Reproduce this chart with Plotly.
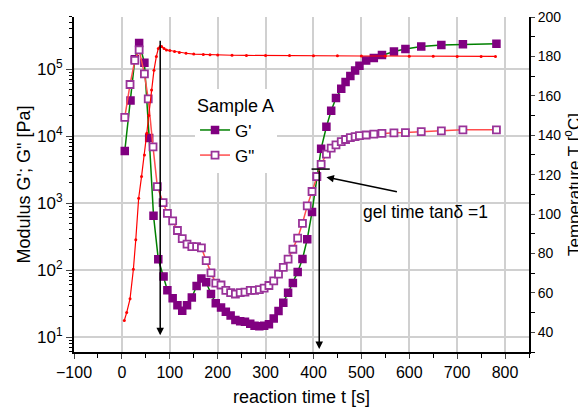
import plotly.graph_objects as go

# ---------------- data ----------------
t_gp = [6, 18, 27, 36, 47, 57, 66, 76, 87, 95, 106, 116, 126, 136, 146, 156, 166, 176,
        186, 196, 207, 217, 227, 237, 247, 257, 268, 277, 287, 297, 307, 317, 327, 337,
        347, 357, 367, 377, 387, 397, 407, 416, 427, 437, 447, 458, 467, 477, 487, 496,
        510, 526, 543, 568, 592, 625, 667, 712, 782]
g_prime = [6.0e3, 3.4e4, 1.4e5, 2.45e5, 1.25e5, 9.4e3, 650, 145, 80, 50, 38, 30, 24.7, 30,
           39, 58, 75, 66, 44, 32, 27.6, 24, 21, 18, 17.3, 17, 15.8, 14.8, 14.5, 14.8,
           15.5, 19, 24.5, 32.7, 46, 64, 94, 146, 290, 740, 2500, 6500, 1.38e4, 2.4e4,
           3.7e4, 5.1e4, 6.4e4, 7.9e4, 9.5e4, 1.12e5, 1.34e5, 1.46e5, 1.63e5, 1.83e5,
           2.0e5, 2.18e5, 2.3e5, 2.36e5, 2.4e5]

t_gpp = [6, 17, 27, 36, 47, 55, 65, 74, 86, 95, 106, 116, 126, 136, 146, 156, 166, 176,
         186, 196, 207, 217, 227, 237, 247, 257, 268, 277, 287, 297, 307, 317, 327, 337,
         347, 357, 367, 377, 387, 397, 407, 416, 427, 437, 447, 458, 467, 477, 487, 496,
         510, 526, 543, 568, 592, 625, 667, 712, 782]
g_dprime = [1.9e4, 5.9e4, 1.35e5, 1.94e5, 8.5e4, 3.6e4, 6.9e3, 1.76e3, 1.02e3, 705, 545,
            390, 296, 245, 225, 225, 215, 139, 91, 64, 60, 50, 46, 44, 46, 47, 50, 50, 51,
            54, 59, 69, 87, 110, 146, 205, 300, 500, 910, 1490, 2480, 3800, 5400, 6600,
            7400, 8300, 8900, 9500, 9800, 1.02e4, 1.04e4, 1.07e4, 1.1e4, 1.12e4, 1.13e4,
            1.17e4, 1.2e4, 1.24e4, 1.24e4]

t_temp = [5, 10, 17, 24, 29, 35, 41, 47, 52, 56, 62, 67, 72, 76, 80, 83, 88, 93, 100, 110,
          120, 134, 150, 170, 184, 200, 230, 260, 300, 350, 400, 450, 500, 550, 600, 650,
          700, 750, 780]
temp = [46, 50, 57, 72, 87, 108, 119, 130, 141, 150, 163, 173, 180, 184, 185, 185, 184,
        183.3, 183, 182.5, 182, 181.6, 181.2, 181, 180.8, 180.7, 180.6, 180.5, 180.4,
        180.4, 180.3, 180.3, 180.2, 180.2, 180.1, 180.1, 180, 180, 180]

x_ticks = [-100, 0, 100, 200, 300, 400, 500, 600, 700, 800]
y_ticks = [10, 100, 1000, 10000, 100000]
y_ticktext = ["10<sup>1</sup>", "10<sup>2</sup>", "10<sup>3</sup>", "10<sup>4</sup>", "10<sup>5</sup>"]
y_minor = [m * 10 ** e for e in range(0, 6) for m in range(2, 10)]
t_ticks = [40, 60, 80, 100, 120, 140, 160, 180, 200]

t_arrow1 = 80
t_gel = 412

FONT = "Arial, Liberation Sans, sans-serif"
PURPLE = "#800080"

fig = go.Figure()

fig.add_trace(go.Scatter(
    x=t_temp, y=temp, yaxis="y2", mode="lines+markers", showlegend=False,
    line=dict(color="#ff0000", width=1.2),
    marker=dict(color="#ff0000", size=3)))

fig.add_trace(go.Scatter(
    x=t_gp, y=g_prime, name="G'", mode="lines+markers",
    line=dict(color="#008000", width=1.5),
    marker=dict(symbol="square", size=7, color=PURPLE, line=dict(color=PURPLE, width=1.5))))

fig.add_trace(go.Scatter(
    x=t_gpp, y=g_dprime, name='G"', mode="lines+markers",
    line=dict(color="#ff4d4d", width=1.5),
    marker=dict(symbol="square", size=7, color="white", line=dict(color="#993399", width=1.8))))

grid = "#d0d0d0"
# the page body has an 8px margin, so the figure is 8px smaller on each axis
fig.update_layout(
    width=578, height=404,
    margin=dict(l=66, r=57, t=9, b=60),
    paper_bgcolor="white", plot_bgcolor="white",
    font=dict(family=FONT, size=16, color="black"),
    xaxis=dict(
        range=[-100, 850], tickvals=x_ticks, ticks="outside", ticklen=5, tickwidth=1.2,
        showline=True, linecolor="black", linewidth=2, showgrid=True, gridcolor=grid, gridwidth=1.5,
        zeroline=False, tickfont=dict(size=16), automargin=False,
        minor=dict(dtick=50, ticks="outside", ticklen=4, tickcolor="black", showgrid=False),
        title=dict(text="reaction time t [s]", font=dict(size=18), standoff=10)),
    yaxis=dict(
        type="log", range=[0.778, 5.778], tickvals=y_ticks, ticktext=y_ticktext,
        ticks="outside", ticklen=6, tickwidth=1.2, automargin=False,
        showline=True, linecolor="black", linewidth=2, showgrid=True, gridcolor=grid, gridwidth=1.5,
        zeroline=False, tickfont=dict(size=17),
        minor=dict(tickvals=y_minor, ticks="outside", ticklen=3, tickcolor="black", showgrid=False),
        title=dict(text="Modulus G'; G\" [Pa]", font=dict(size=18), standoff=2)),
    yaxis2=dict(
        overlaying="y", side="right", range=[30, 200], tickvals=t_ticks, automargin=False,
        ticks="outside", ticklen=4, tickwidth=1.2, showgrid=False, zeroline=False,
        showline=True, linecolor="black", linewidth=2, tickfont=dict(size=14),
        minor=dict(dtick=10, ticks="outside", ticklen=4, tickcolor="black"),
        title=dict(text="Temperature T [<sup>o</sup>C]", font=dict(size=17), standoff=6)),
    legend=dict(
        x=0.266, y=0.785, xanchor="left", yanchor="top", bgcolor="white",
        font=dict(size=17), title=dict(text="Sample A", font=dict(size=18)),
        tracegroupgap=0, itemsizing="trace"),
)

# arrows
fig.add_annotation(x=t_arrow1, y=0.05, xref="x", yref="paper", ax=0, ay=-296,
                   showarrow=True, arrowhead=2, arrowsize=1, arrowwidth=1.5, arrowcolor="black", text="")
fig.add_annotation(x=t_gel, y=0.009, xref="x", yref="paper", ax=0, ay=-180,
                   showarrow=True, arrowhead=2, arrowsize=1, arrowwidth=1.5, arrowcolor="black", text="")
fig.add_shape(type="line", xref="x", yref="paper", x0=t_gel - 16, x1=t_gel + 22, y0=0.546, y1=0.546,
              line=dict(color="black", width=1.5))
fig.add_annotation(x=427, y=0.522, xref="x", yref="paper", ax=72, ay=15,
                   showarrow=True, arrowhead=2, arrowsize=1, arrowwidth=1.5, arrowcolor="black", text="")
fig.add_annotation(x=634, y=(352 - 212) / 335, xref="x", yref="paper",
                   text="gel time tan\u03b4 =1", showarrow=False, font=dict(size=17.5))

fig.write_html("out.html")
